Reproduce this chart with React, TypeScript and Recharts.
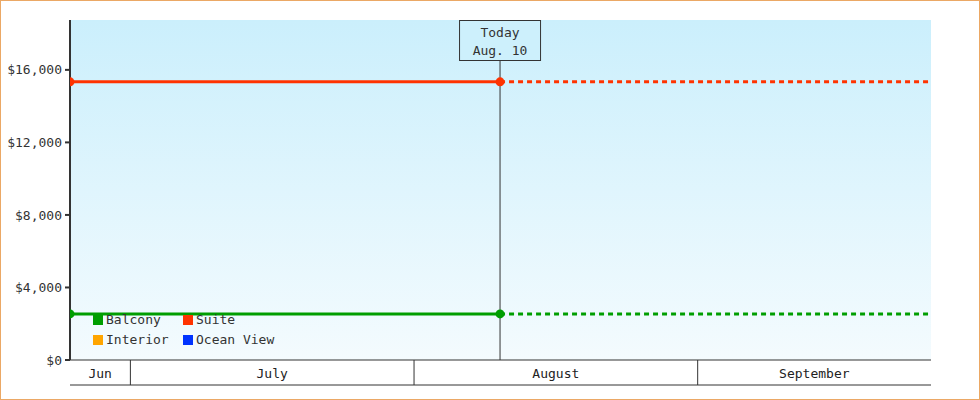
import { LineChart, Line, XAxis, YAxis, CartesianGrid, ReferenceLine } from "recharts";

// day numbers, counted from Jun 1 (Jul 1 = 30, Aug 1 = 61, Sep 1 = 92)
const dates = [23.4, 70.4, 117.5];
const todayIndex = 1;
const suite = [15340, 15340, 15340];
const balcony = [2540, 2540, 2540];

const monthNames = ["Jun", "July", "August", "September"];
const monthStarts = [30, 61, 92];
const yTicks = [0, 4000, 8000, 12000, 16000];
const yMax = 18750;

const legendItems = [
  { name: "Balcony", color: "#009e00" },
  { name: "Suite", color: "#ff3300" },
  { name: "Interior", color: "#ffa500" },
  { name: "Ocean View", color: "#0033ff" },
];

const FONT = "'DejaVu Sans Mono', monospace";
const INK = "#333333";

const today = dates[todayIndex];
const data = dates.map((d, i) => ({
  d,
  suite: i <= todayIndex ? suite[i] : undefined,
  balcony: i <= todayIndex ? balcony[i] : undefined,
  suiteF: i >= todayIndex ? suite[i] : undefined,
  balconyF: i >= todayIndex ? balcony[i] : undefined,
}));

const edges = [dates[0], ...monthStarts, dates[dates.length - 1]];
const monthMids = monthNames.map((_, i) => (edges[i] + edges[i + 1]) / 2);
const xTicks = [...monthStarts, ...monthMids];

const MonthTick = (props: any) => {
  const { x, y, payload } = props;
  const mi = monthMids.indexOf(payload.value);
  if (mi >= 0) {
    return (
      <text x={x} y={y + 18} textAnchor="middle" fill="#222" fontSize={13} fontFamily={FONT}>
        {monthNames[mi]}
      </text>
    );
  }
  return <line x1={x} x2={x} y1={y} y2={y + 25} stroke={INK} strokeWidth={1} />;
};

const TodayLabel = (props: any) => {
  const { viewBox } = props;
  const cx = viewBox.x;
  const top = viewBox.y;
  return (
    <g>
      <rect x={cx - 40.5} y={top + 0.5} width={81} height={40} fill="#cdf0fc" stroke={INK} strokeWidth={1} />
      <text x={cx} y={top + 17} textAnchor="middle" fill={INK} fontSize={13} fontFamily={FONT}>
        Today
      </text>
      <text x={cx} y={top + 35} textAnchor="middle" fill={INK} fontSize={13} fontFamily={FONT}>
        Aug. 10
      </text>
    </g>
  );
};

export default function App() {
  return (
    <div style={{ position: "absolute", left: 0, top: 0, width: 980, height: 400, fontFamily: FONT }}>
      <LineChart
        width={980}
        height={400}
        data={data}
        margin={{ top: 20, right: 49, left: 0, bottom: 13 }}
        style={{ fontFamily: FONT }}>
        <defs>
          <linearGradient id="plotBg" x1="0" y1="0" x2="0" y2="1">
            <stop offset="0%" stopColor="#cbeffc" />
            <stop offset="100%" stopColor="#f4fbfe" />
          </linearGradient>
        </defs>
        <CartesianGrid xAxisId="amonth" horizontal={false} vertical={false} fill="url(#plotBg)" />
        <XAxis
          xAxisId="amonth"
          dataKey="d"
          type="number"
          domain={[dates[0], dates[dates.length - 1]]}
          ticks={xTicks}
          interval={0}
          height={25}
          tickLine={false}
          tickSize={0}
          tickMargin={0}
          axisLine={{ stroke: INK, strokeWidth: 1 }}
          tick={<MonthTick />}
          allowDataOverflow
        />
        <XAxis
          xAxisId="zband"
          dataKey="d"
          type="number"
          domain={[dates[0], dates[dates.length - 1]]}
          height={2}
          tick={false}
          tickLine={false}
          axisLine={{ stroke: INK, strokeWidth: 1 }}
          allowDataOverflow
        />
        <YAxis
          domain={[0, yMax]}
          ticks={yTicks}
          width={70}
          tickSize={5}
          tickMargin={3}
          tickLine={{ stroke: INK, strokeWidth: 2 }}
          axisLine={{ stroke: INK, strokeWidth: 2 }}
          tick={{ fill: INK, fontSize: 13, fontFamily: FONT }}
          tickFormatter={(v: number) => `$${v.toLocaleString("en-US")}`}
          allowDataOverflow
        />
        <ReferenceLine
          xAxisId="amonth"
          x={today}
          stroke={INK}
          strokeWidth={1}
          label={<TodayLabel />}
        />
        <Line
          xAxisId="amonth"
          dataKey="suite"
          stroke="#ff3300"
          strokeWidth={3}
          dot={{ r: 4.5, fill: "#ff3300", stroke: "none" }}
          isAnimationActive={false}
        />
        <Line
          xAxisId="amonth"
          dataKey="suiteF"
          stroke="#ff3300"
          strokeWidth={3}
          strokeDasharray="5 4"
          dot={false}
          isAnimationActive={false}
        />
        <Line
          xAxisId="amonth"
          dataKey="balcony"
          stroke="#009e00"
          strokeWidth={3}
          dot={{ r: 4.5, fill: "#009e00", stroke: "none" }}
          isAnimationActive={false}
        />
        <Line
          xAxisId="amonth"
          dataKey="balconyF"
          stroke="#009e00"
          strokeWidth={3}
          strokeDasharray="5 4"
          dot={false}
          isAnimationActive={false}
        />
      </LineChart>
      <div
        style={{
          position: "absolute",
          left: 93,
          top: 312,
          display: "grid",
          gridTemplateColumns: "90px 120px",
          rowGap: 4,
          fontSize: 13,
          color: INK,
          lineHeight: "16px",
        }}>
        {legendItems.map((item) => (
          <div key={item.name} style={{ display: "flex", alignItems: "center" }}>
            <span style={{ width: 10, height: 10, background: item.color, marginRight: 3 }} />
            {item.name}
          </div>
        ))}
      </div>
      <div
        style={{
          position: "absolute",
          inset: 0,
          border: "1px solid #eba865",
          boxSizing: "border-box",
          pointerEvents: "none",
        }}
      />
    </div>
  );
}
